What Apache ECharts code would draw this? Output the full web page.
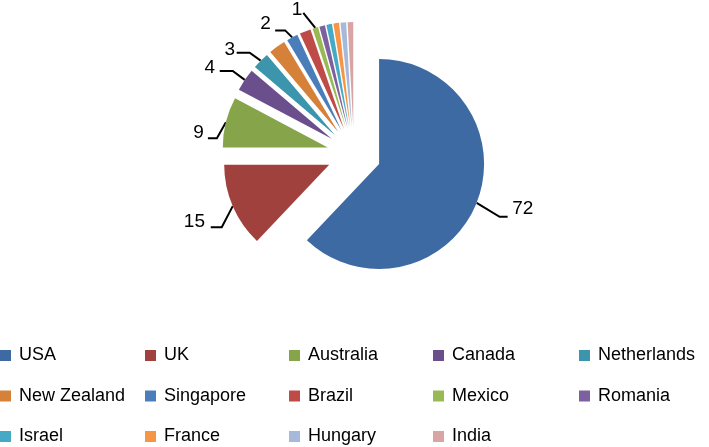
<!DOCTYPE html>
<html><head><meta charset="utf-8">
<script src="https://cdn.jsdelivr.net/npm/echarts@6/dist/echarts.min.js"></script>
<style>html,body{margin:0;padding:0;background:#fff}#c{width:709px;height:447px}</style>
</head><body><div id="c"></div>
<script>
const categories = ['USA','UK','Australia','Canada','Netherlands','New Zealand','Singapore','Brazil','Mexico','Romania','Israel','France','Hungary','India'];
const values = [72,15,9,4,3,3,2,2,1,1,1,1,1,1];
const showLabel = [true,true,true,true,true,false,true,false,true,false,false,false,false,false];
const colors = ['#3E6AA3','#A0413D','#86A44A','#6A4F8C','#3B96AD','#D6813A','#4A7EBB','#BE4B48','#98B954','#7D60A0','#46AAC5','#F69546','#A7B9DA','#D9A5A4'];
const legendColumns = [
  ['USA','New Zealand','Israel'],
  ['UK','Singapore','France'],
  ['Australia','Brazil','Hungary'],
  ['Canada','Mexico','India'],
  ['Netherlands','Romania']
];
const legendLeft = [0,145,289,433,579];
const FONT = 'Liberation Sans';
// label placement style: radial run, horizontal run, vertical nudge (align + line height)
const labelLen  = {0:15,1:15,2:15,3:15,4:15,6:15,8:15};
const labelLen2 = {0:16.6,1:9,2:2.5,3:12.3,4:10.1,6:9.3,8:3.6};
const labelVAlign = {1:'top',2:'top',3:'bottom',8:'bottom'};
const labelLineH  = {1:20,2:29,3:8,8:8};
// Excel-like leader line: bend offset from slice edge, then horizontal run
const leaderBend = {0:[23,14],1:[-11,21],2:[-9,16],3:[-12,-9],4:[-11,-8],6:[-7,-7],8:[-12,-15]};
const leaderRun  = {0:8,1:-11,2:-9,3:-13,4:-13,6:-10,8:0};

const chart = echarts.init(document.getElementById('c'));
const data = categories.map((n,i)=>({
  name:n, value:values[i], selected:true,
  itemStyle:{color:colors[i]},
  label: labelLineH[i] ? {show:showLabel[i], lineHeight:labelLineH[i]} : {show:showLabel[i]},
  labelLine:{show:showLabel[i], length: labelLen[i] || 15, length2: labelLen2[i] || 10}
}));
chart.setOption({
  animation:false,
  color:colors,
  legend: legendColumns.map((col,i)=>({
    orient:'vertical', left:legendLeft[i], top:345.5, padding:0,
    icon:'rect', itemWidth:11, itemHeight:11, itemGap:20.5,
    selectedMode:false,
    textStyle:{fontFamily:FONT, fontSize:18, color:'#000', lineHeight:20, padding:[0,0,0,3]},
    data:col
  })),
  series:[{
    type:'pie',
    center:[354,154], radius:105,
    startAngle:90, clockwise:true,
    selectedMode:'multiple', selectedOffset:27,
    avoidLabelOverlap:false,
    silent:true,
    label:{position:'outside', formatter:'{c}', fontFamily:FONT, fontSize:19, color:'#000', distanceToLabelLine:5},
    labelLine:{lineStyle:{color:'#000', width:2}},
    labelLayout:function(p){
      const i = p.dataIndex;
      const b = leaderBend[i];
      if(!b || !p.labelLinePoints) return {};
      const p0 = p.labelLinePoints[0];
      const p1 = [p0[0]+b[0], p0[1]+b[1]];
      const p2 = [p1[0]+leaderRun[i], p1[1]];
      const out = { labelLinePoints:[p0,p1,p2] };
      if (labelVAlign[i]) out.verticalAlign = labelVAlign[i];
      return out;
    },
    data:data
  }]
});
</script></body></html>
